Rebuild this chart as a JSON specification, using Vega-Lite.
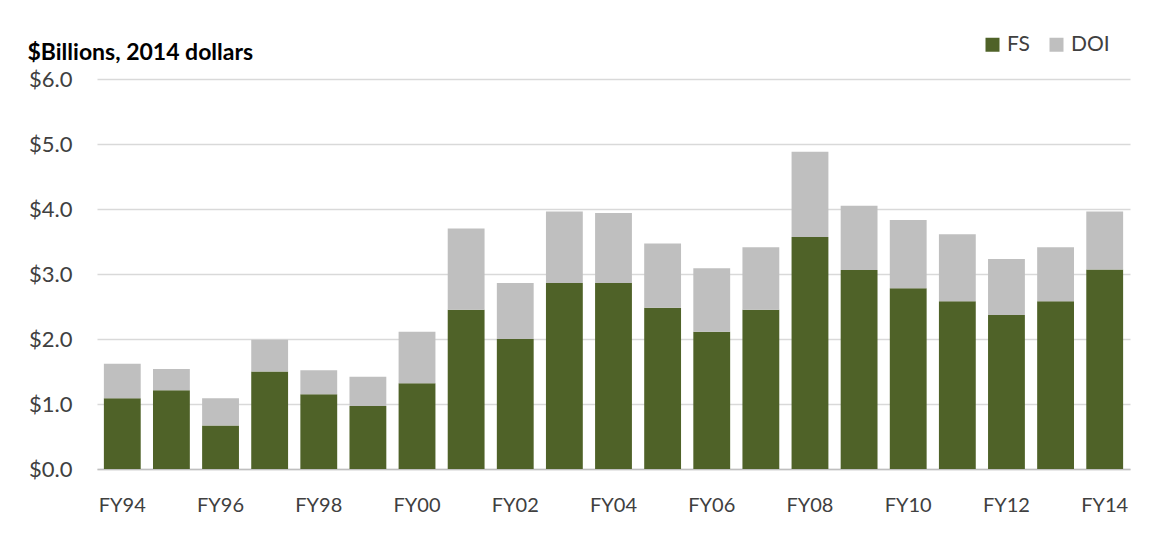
{
  "$schema": "https://vega.github.io/schema/vega-lite/v6.json",
  "width": 1033,
  "height": 390,
  "autosize": "none",
  "padding": {"left": 97, "top": 79, "right": 23, "bottom": 64},
  "background": "#ffffff",
  "config": {
    "view": {"stroke": null},
    "font": "Lato"
  },
  "data": {
    "values": [
      {"year": "FY94", "series": "FS", "value": 1.09}, {"year": "FY94", "series": "DOI", "value": 0.53},
      {"year": "FY95", "series": "FS", "value": 1.21}, {"year": "FY95", "series": "DOI", "value": 0.33},
      {"year": "FY96", "series": "FS", "value": 0.67}, {"year": "FY96", "series": "DOI", "value": 0.42},
      {"year": "FY97", "series": "FS", "value": 1.50}, {"year": "FY97", "series": "DOI", "value": 0.49},
      {"year": "FY98", "series": "FS", "value": 1.15}, {"year": "FY98", "series": "DOI", "value": 0.37},
      {"year": "FY99", "series": "FS", "value": 0.97}, {"year": "FY99", "series": "DOI", "value": 0.45},
      {"year": "FY00", "series": "FS", "value": 1.32}, {"year": "FY00", "series": "DOI", "value": 0.79},
      {"year": "FY01", "series": "FS", "value": 2.45}, {"year": "FY01", "series": "DOI", "value": 1.25},
      {"year": "FY02", "series": "FS", "value": 2.00}, {"year": "FY02", "series": "DOI", "value": 0.86},
      {"year": "FY03", "series": "FS", "value": 2.86}, {"year": "FY03", "series": "DOI", "value": 1.10},
      {"year": "FY04", "series": "FS", "value": 2.86}, {"year": "FY04", "series": "DOI", "value": 1.08},
      {"year": "FY05", "series": "FS", "value": 2.48}, {"year": "FY05", "series": "DOI", "value": 0.99},
      {"year": "FY06", "series": "FS", "value": 2.11}, {"year": "FY06", "series": "DOI", "value": 0.98},
      {"year": "FY07", "series": "FS", "value": 2.45}, {"year": "FY07", "series": "DOI", "value": 0.96},
      {"year": "FY08", "series": "FS", "value": 3.57}, {"year": "FY08", "series": "DOI", "value": 1.31},
      {"year": "FY09", "series": "FS", "value": 3.06}, {"year": "FY09", "series": "DOI", "value": 0.99},
      {"year": "FY10", "series": "FS", "value": 2.78}, {"year": "FY10", "series": "DOI", "value": 1.05},
      {"year": "FY11", "series": "FS", "value": 2.58}, {"year": "FY11", "series": "DOI", "value": 1.03},
      {"year": "FY12", "series": "FS", "value": 2.37}, {"year": "FY12", "series": "DOI", "value": 0.86},
      {"year": "FY13", "series": "FS", "value": 2.58}, {"year": "FY13", "series": "DOI", "value": 0.83},
      {"year": "FY14", "series": "FS", "value": 3.07}, {"year": "FY14", "series": "DOI", "value": 0.89}
    ]
  },
  "mark": {"type": "bar"},
  "encoding": {
    "x": {
      "field": "year",
      "type": "ordinal",
      "sort": null,
      "scale": {"paddingInner": 0.25, "paddingOuter": 0.14},
      "axis": {
        "title": null,
        "values": ["FY94", "FY96", "FY98", "FY00", "FY02", "FY04", "FY06", "FY08", "FY10", "FY12", "FY14"],
        "labelAngle": 0,
        "ticks": false,
        "labelPadding": 26,
        "labelFontSize": 20,
        "labelColor": "#404040",
        "domainColor": "#BFBFBF",
        "domainWidth": 1.5
      }
    },
    "y": {
      "field": "value",
      "type": "quantitative",
      "stack": "zero",
      "scale": {"domain": [0, 6], "nice": false},
      "axis": {
        "values": [0, 1, 2, 3, 4, 5, 6],
        "format": "$.1f",
        "ticks": false,
        "domain": false,
        "labelPadding": 25,
        "labelFontSize": 22,
        "labelColor": "#404040",
        "gridColor": "#D9D9D9",
        "gridWidth": 1.5,
        "title": "$Billions, 2014 dollars",
        "titleAngle": 0,
        "titleAlign": "left",
        "titleBaseline": "middle",
        "titleX": -70,
        "titleY": -27,
        "titleFontSize": 23,
        "titleFontWeight": "bold",
        "titleColor": "#000000"
      }
    },
    "color": {
      "field": "series",
      "type": "nominal",
      "scale": {"domain": ["FS", "DOI"], "range": ["#4F6228", "#BFBFBF"]},
      "legend": {
        "title": null,
        "orient": "none",
        "direction": "horizontal",
        "legendX": 885,
        "legendY": -45,
        "symbolType": "square",
        "symbolSize": 196,
        "symbolStrokeWidth": 0,
        "labelFontSize": 21,
        "labelColor": "#404040",
        "labelOffset": 4,
        "columnPadding": 16,
        "padding": 0
      }
    },
    "order": {"field": "series", "sort": "descending"}
  }
}
